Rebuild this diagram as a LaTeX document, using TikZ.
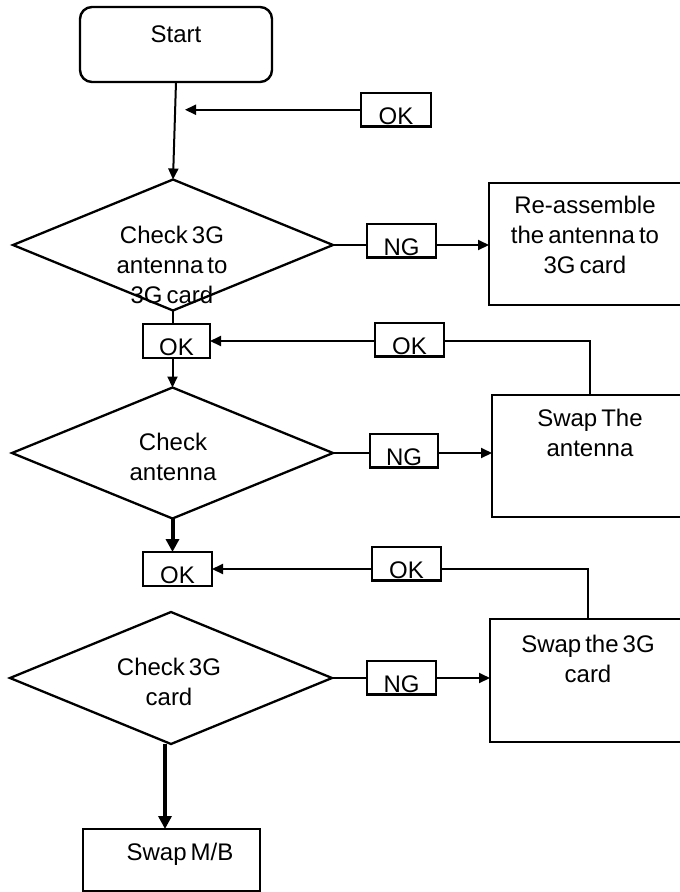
\documentclass[tikz,border=0pt]{standalone}
\usepackage{fontspec}
\setmainfont{Liberation Sans}[WordSpace=0.6]
\usetikzlibrary{arrows.meta,shapes.geometric}
\newcommand\capstrut{\rule{0pt}{18pt}}
\begin{document}
\begin{tikzpicture}[x=1pt,y=-1pt,
  every node/.style={font=\fontsize{24}{30}\selectfont, inner sep=0pt, outer sep=0pt},
  tag/.style={draw, line width=2.2pt, minimum width=69pt, text height=31pt, text depth=2.5pt, anchor=north},
  bigbox/.style={draw, line width=2.4pt, anchor=north west},
  dec/.style={draw, diamond, line width=2.3pt},
  txt/.style={align=center, anchor=north},
  conn/.style={line width=2pt},
  arr/.style={conn, -{Triangle[length=11pt,width=10pt]}},
  thickarr/.style={line width=4pt, -{Triangle[length=13pt,width=13pt]}},
]
\useasboundingbox (0,0) rectangle (680,892);
\clip (0,0) rectangle (680,892);

% Start
\node[draw, line width=2.4pt, rounded corners=12pt, minimum width=192pt, text height=35pt, text depth=40pt] (start) at (176,44.5) {Start};

% OK tag at top
\node[tag, minimum width=70pt] (ok1) at (396,93) {OK};
\coordinate (c1) at (185,109.75);

% Decision 1
\node[dec, minimum width=320pt, minimum height=131pt] (d1) at (173,245) {};
\node[txt] (t1) at (172,225) {\capstrut Check 3G\\antenna to\\3G card};
\node[tag] (ng1) at (401.5,224) {NG};
\node[bigbox, minimum width=215pt, minimum height=122pt] (re) at (489,183) {};
\node[txt] (tre) at (585,195) {\capstrut Re-assemble\\the antenna to\\3G card};

% OK row 2
\node[tag, minimum width=67pt, text depth=3pt] (ok2) at (176.5,324) {OK};
\node[tag] (okr2) at (409.5,323) {OK};

% Decision 2
\node[dec, minimum width=321pt, minimum height=131pt] (d2) at (172.5,453) {};
\node[txt] (t2) at (173,432) {\capstrut Check\\antenna};
\node[tag, minimum width=68pt] (ng2) at (404,434) {NG};
\node[bigbox, minimum width=212pt, minimum height=122pt] (sa) at (492,395) {};
\node[txt] (tsa) at (590,408) {\capstrut Swap The\\antenna};
\coordinate (sain) at (590,395);

% OK row 3
\node[tag, text depth=3pt] (ok3) at (177.5,552) {OK};
\node[tag] (okr3) at (406.5,547) {OK};

% Decision 3
\node[dec, minimum width=322pt, minimum height=132pt] (d3) at (171,678) {};
\node[txt] (t3) at (169,657) {\capstrut Check 3G\\card};
\node[tag] (ng3) at (401.5,661) {NG};
\node[bigbox, minimum width=214pt, minimum height=123pt] (s3) at (490,619) {};
\node[txt] (ts3) at (588,634) {\capstrut Swap the 3G\\card};
\coordinate (s3in) at (588,619);
\coordinate (d3out) at (165,744);

% Swap M/B
\node[bigbox, minimum width=177pt, minimum height=62pt] (mb) at (83,829) {};
\node[txt] (tmb) at (180,842) {\capstrut Swap M/B};

% Connectors
\draw[arr] (start.south) -- (d1.north);
\draw[arr] (ok1.west) -- (c1);
\draw[conn] (d1.east) -- (d1.east -| ng1.west);
\draw[arr] (d1.east -| ng1.east) -- (d1.east -| re.west);
\draw[conn] (d1.south) -- (d1.south |- ok2.north);
\draw[arr] (d2.north |- ok2.south) -- (d2.north);
\draw[conn] (sain) |- (okr2.east |- ok2.east);
\draw[arr] (okr2.west |- ok2.east) -- (ok2.east);
\draw[conn] (d2.east) -- (d2.east -| ng2.west);
\draw[arr] (d2.east -| ng2.east) -- (d2.east -| sa.west);
\draw[thickarr] (d2.south) -- (d2.south |- ok3.north);
\draw[conn] (s3in) |- (okr3.east |- ok3.east);
\draw[arr] (okr3.west |- ok3.east) -- (ok3.east);
\draw[conn] (d3.east) -- (d3.east -| ng3.west);
\draw[arr] (d3.east -| ng3.east) -- (d3.east -| s3.west);
\draw[thickarr] (d3out) -- (d3out |- mb.north);
\end{tikzpicture}
\end{document}
